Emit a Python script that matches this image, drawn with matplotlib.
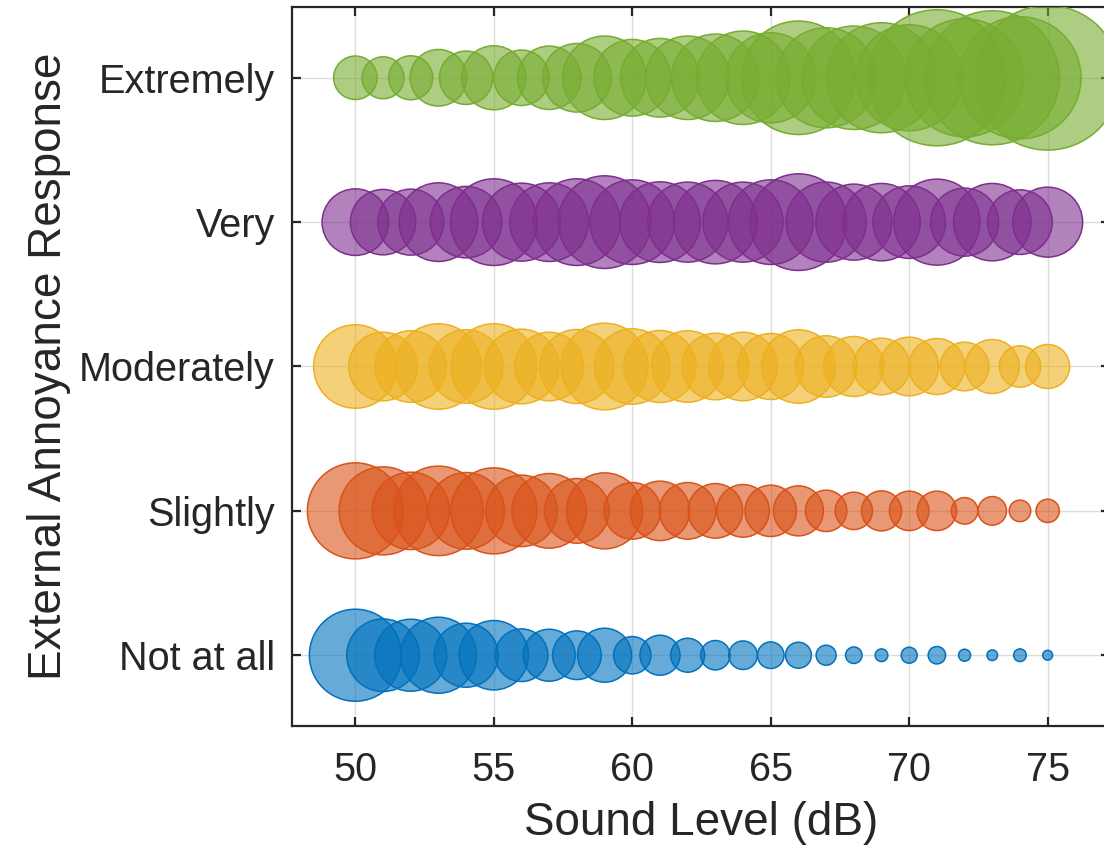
import numpy as np
import matplotlib
matplotlib.use("Agg")
import matplotlib.pyplot as plt
from matplotlib.colors import to_rgba

# -------------------------------------------------------
# Data: respondent counts per sound level and response.
# -------------------------------------------------------
levels = np.arange(50, 76)
responses = ["Not at all", "Slightly", "Moderately", "Very", "Extremely"]

not_at_all = [529, 329, 324, 361, 256, 301, 173, 169, 148, 182, 87, 100, 72,
              54, 51, 44, 42, 25, 17, 10, 16, 19, 9, 7, 10, 6]
slightly = [576, 484, 374, 500, 367, 462, 319, 348, 261, 361, 200, 221, 200,
            186, 173, 165, 156, 107, 87, 100, 97, 97, 44, 51, 29, 34]
moderately = [435, 294, 319, 456, 337, 456, 348, 294, 342, 469, 355, 324, 319,
              277, 294, 272, 337, 236, 225, 200, 215, 196, 148, 182, 107, 121]
very = [277, 267, 272, 386, 319, 469, 380, 386, 469, 536, 447, 406, 400,
        435, 400, 447, 583, 400, 361, 374, 329, 462, 289, 374, 261, 306]
extremely = [118, 110, 121, 200, 178, 256, 192, 251, 294, 435, 367, 386, 435,
             477, 545, 506, 804, 625, 668, 756, 702, 1156, 870, 1122, 930, 1307]

counts = [not_at_all, slightly, moderately, very, extremely]
colors = ["#0072BD", "#D95319", "#EDB120", "#7E2F8E", "#77AC30"]

# -------------------------------------------------------
# Draw the bubble chart.
# -------------------------------------------------------
plt.rcParams['font.family'] = ['Liberation Sans', 'DejaVu Sans']
textc = "#262626"

fig = plt.figure(figsize=(11.04, 8.47), dpi=100)
ax = fig.add_axes([0.2642, 0.1429, 0.7412, 0.8488])

for i in range(len(responses)):
    c = np.array(counts[i], dtype=float)
    y = np.full(len(levels), i + 1)
    ax.scatter(levels, y, s=c * 8.3, facecolor=to_rgba(colors[i], 0.6),
               edgecolor=colors[i], linewidth=1.1, zorder=3)

ax.set_xlim(47.7, 77.25)
ax.set_ylim(0.51, 5.49)
ax.set_xticks([50, 55, 60, 65, 70, 75])
ax.set_yticks(range(1, len(responses) + 1))
ax.set_yticklabels(responses)

ax.grid(True, color="#dcdcdc", linewidth=1.0, zorder=0)
ax.set_axisbelow(True)
for sp in ax.spines.values():
    sp.set_color(textc)
    sp.set_linewidth(1.6)

ax.tick_params(axis="both", direction="in", length=6.5, width=1.6,
               colors=textc, labelsize=28.5, top=True, right=True)
ax.tick_params(axis="x", pad=18)
ax.tick_params(axis="y", pad=12)

ax.set_xlabel("Sound Level (dB)", fontsize=33, color=textc, labelpad=9)
ax.set_ylabel("External Annoyance Response", fontsize=33, color=textc, labelpad=6)

fig.savefig("out.png", dpi=100)
